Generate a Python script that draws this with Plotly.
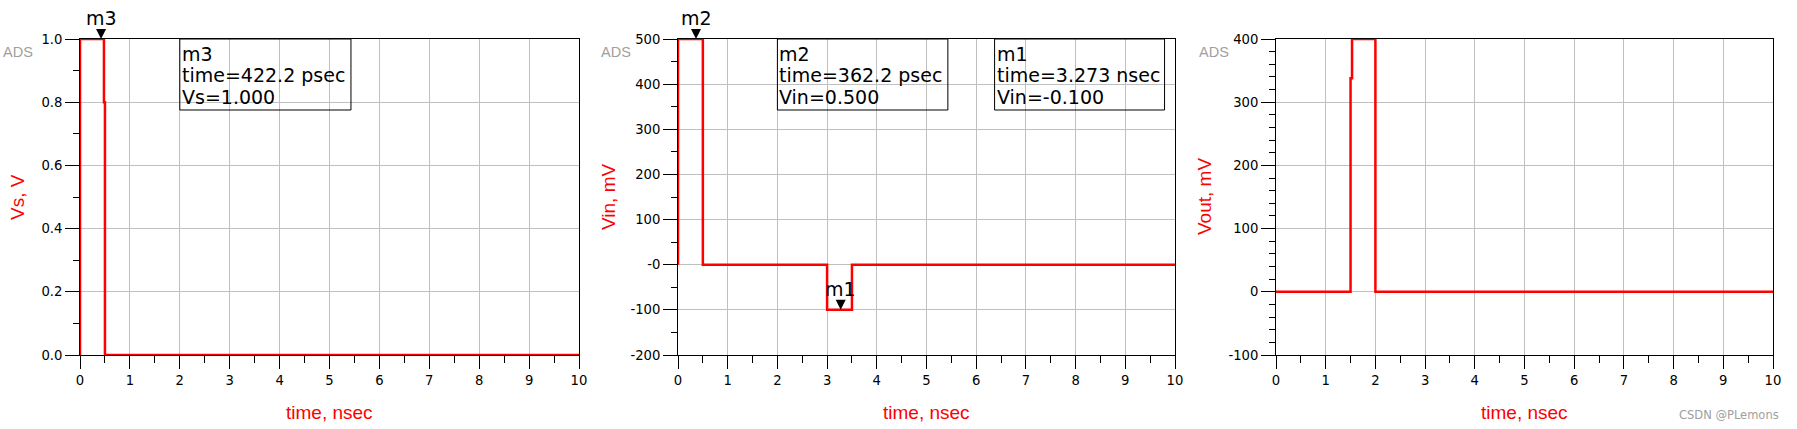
import plotly.graph_objects as go

# ---------------- data ----------------
# Panel 1: Vs (V) vs time (nsec)
t_vs = [0, 0, 0.48, 0.48, 0.5, 0.5, 10]
vs_v = [0, 1.0, 1.0, 0.8, 0.8, 0, 0]

# Panel 2: Vin (mV) vs time (nsec)
t_vin = [0, 0, 0.5, 0.5, 3.0, 3.0, 3.5, 3.5, 10]
vin_mv = [0, 500, 500, 0, 0, -100, -100, 0, 0]

# Panel 3: Vout (mV) vs time (nsec)
t_vout = [0, 1.5, 1.5, 1.53, 1.53, 2.0, 2.0, 10]
vout_mv = [0, 0, 338, 338, 400, 400, 0, 0]

x_ticks = list(range(0, 11))
y1_ticks = [0.0, 0.2, 0.4, 0.6, 0.8, 1.0]
y1_labels = ["0.0", "0.2", "0.4", "0.6", "0.8", "1.0"]
y2_ticks = [-200, -100, 0, 100, 200, 300, 400, 500]
y2_labels = ["-200", "-100", "-0", "100", "200", "300", "400", "500"]
y3_ticks = [-100, 0, 100, 200, 300, 400]
y3_labels = ["-100", "0", "100", "200", "300", "400"]

y_titles = ["Vs, V", "Vin, mV", "Vout, mV"]
x_title = "time, nsec"

# markers: (panel, name, x, y)
marker_panels = [1, 2, 2]
marker_names = ["m3", "m2", "m1"]
marker_x = [0.4222, 0.3622, 3.273]
marker_y = [1.0, 500, -100]

# readout boxes
readout_panels = [1, 2, 2]
readout_x0 = [2.0, 2.0, 6.37]
readout_x1 = [5.43, 5.43, 9.79]
readout_lines = [
    ["m3", "time=422.2 psec", "Vs=1.000"],
    ["m2", "time=362.2 psec", "Vin=0.500"],
    ["m1", "time=3.273 nsec", "Vin=-0.100"],
]

# ---------------- layout ----------------
W, H = 1797, 429
FONT = "DejaVu Sans"
TFONT = "Liberation Sans, Arial, sans-serif"
RED = "#ff0000"
GRID = "#c0c0c0"

x_domains = [[80 / W, 579 / W], [678 / W, 1175 / W], [1276 / W, 1773 / W]]
y_domain = [(H - 355) / H, (H - 39) / H]
y_ranges = [[0, 1.0], [-200, 500], [-100, 400]]
y_minor = [0.1, 50, 20]
y_tickvals = [y1_ticks, y2_ticks, y3_ticks]
y_ticktext = [y1_labels, y2_labels, y3_labels]
ytitle_shift = [-63, -70, -72]

fig = go.Figure()
series = [(t_vs, vs_v), (t_vin, vin_mv), (t_vout, vout_mv)]
for i, (tx, ty) in enumerate(series):
    sfx = "" if i == 0 else str(i + 1)
    fig.add_trace(go.Scatter(
        x=tx, y=ty, mode="lines",
        line=dict(color=RED, width=2.5, shape="linear"),
        xaxis="x" + sfx, yaxis="y" + sfx,
        showlegend=False, hoverinfo="skip", cliponaxis=False,
    ))

layout = dict(
    template="none",
    width=W, height=H, autosize=False,
    margin=dict(l=0, r=0, t=0, b=0, pad=0, autoexpand=False),
    paper_bgcolor="white", plot_bgcolor="white",
    showlegend=False,
    font=dict(family=FONT, color="black"),
)

for i in range(3):
    sfx = "" if i == 0 else str(i + 1)
    layout["xaxis" + sfx] = dict(
        domain=x_domains[i], anchor="y" + sfx, range=[0, 10], automargin=False,
        tickmode="array", tickvals=x_ticks, ticktext=[str(v) for v in x_ticks],
        ticks="outside", ticklen=13, tickwidth=1, tickcolor="black",
        showline=True, linecolor="black", linewidth=1, mirror=True,
        showgrid=True, gridcolor=GRID, gridwidth=1, zeroline=False,
        tickfont=dict(family=FONT, size=13.2, color="black"),
        minor=dict(tickmode="linear", tick0=0, dtick=0.5, ticks="outside",
                   ticklen=7, tickwidth=1, tickcolor="black", showgrid=False),
        layer="below traces", fixedrange=True,
    )
    layout["yaxis" + sfx] = dict(
        domain=y_domain, anchor="x" + sfx, range=y_ranges[i], automargin=False,
        tickmode="array", tickvals=y_tickvals[i], ticktext=y_ticktext[i],
        ticks="outside", ticklen=14, tickwidth=1, tickcolor="black",
        showline=True, linecolor="black", linewidth=1, mirror=True,
        showgrid=True, gridcolor=GRID, gridwidth=1, zeroline=False,
        tickfont=dict(family=FONT, size=13.2, color="black"),
        minor=dict(tickmode="linear", tick0=y_ranges[i][0], dtick=y_minor[i],
                   ticks="outside", ticklen=6, tickwidth=1, tickcolor="black",
                   showgrid=False),
        layer="below traces", fixedrange=True,
    )

annotations = []
shapes = []
for i in range(3):
    sfx = "" if i == 0 else str(i + 1)
    # y title
    annotations.append(dict(
        text=y_titles[i], xref="x%s domain" % sfx, yref="y%s domain" % sfx,
        x=0, y=0.5, xanchor="center", yanchor="middle", xshift=ytitle_shift[i],
        textangle=-90, showarrow=False,
        font=dict(family=TFONT, size=19, color=RED),
    ))
    # x title
    annotations.append(dict(
        text=x_title, xref="x%s domain" % sfx, yref="y%s domain" % sfx,
        x=0.5, y=0, xanchor="center", yanchor="middle", yshift=-58,
        showarrow=False, font=dict(family=TFONT, size=19, color=RED),
    ))
    # ADS label
    annotations.append(dict(
        text="ADS", xref="x%s domain" % sfx, yref="y%s domain" % sfx,
        x=0, y=1, xanchor="right", yanchor="middle", xshift=-45, yshift=-13,
        showarrow=False, font=dict(family=TFONT, size=14.5, color="#a0a0a0"),
    ))

# markers (triangle tip at the marked point; y anchored in domain fraction so
# the triangle is not clipped when it sits above the plot frame)
for p, name, mx, my in zip(marker_panels, marker_names, marker_x, marker_y):
    sfx = "" if p == 1 else str(p)
    lo, hi = y_ranges[p - 1]
    yfrac = (my - lo) / (hi - lo)
    shapes.append(dict(
        type="path", xref="x" + sfx, yref="y%s domain" % sfx,
        xsizemode="pixel", ysizemode="pixel", xanchor=mx, yanchor=yfrac,
        path="M -5,10 L 5,10 L 0,0 Z",
        fillcolor="black", line=dict(width=0), layer="above",
    ))
    annotations.append(dict(
        text=name, xref="x" + sfx, yref="y" + sfx, x=mx, y=my,
        xanchor="center", yanchor="bottom", yshift=8, showarrow=False,
        font=dict(family=FONT, size=19, color="black"),
    ))

# readout boxes
for p, x0, x1, lines in zip(readout_panels, readout_x0, readout_x1, readout_lines):
    sfx = "" if p == 1 else str(p)
    shapes.append(dict(
        type="rect", xref="x" + sfx, yref="y%s domain" % sfx,
        x0=x0, x1=x1, ysizemode="pixel", yanchor=1, y0=0, y1=-71,
        line=dict(color="black", width=1), fillcolor="rgba(0,0,0,0)", layer="above",
    ))
    for k, ln in enumerate(lines):
        annotations.append(dict(
            text=ln, xref="x" + sfx, yref="y%s domain" % sfx, x=x0, y=1,
            xanchor="left", yanchor="middle", xshift=0, yshift=-(14.5 + k * 21.7),
            showarrow=False, font=dict(family=FONT, size=19, color="black"),
        ))

# watermark
annotations.append(dict(
    text="CSDN @PLemons", xref="paper", yref="paper",
    x=1781 / W, y=(H - 415) / H, xanchor="right", yanchor="middle",
    showarrow=False, font=dict(family=FONT, size=11.5, color="#a0a0a0"),
))

layout["annotations"] = annotations
layout["shapes"] = shapes
fig.update_layout(**layout)
fig.write_html(
    "out.html",
    config={"displayModeBar": False, "staticPlot": True},
    post_script="document.body.style.margin='0';document.body.style.padding='0';"
                "document.body.style.overflow='hidden';",
)
